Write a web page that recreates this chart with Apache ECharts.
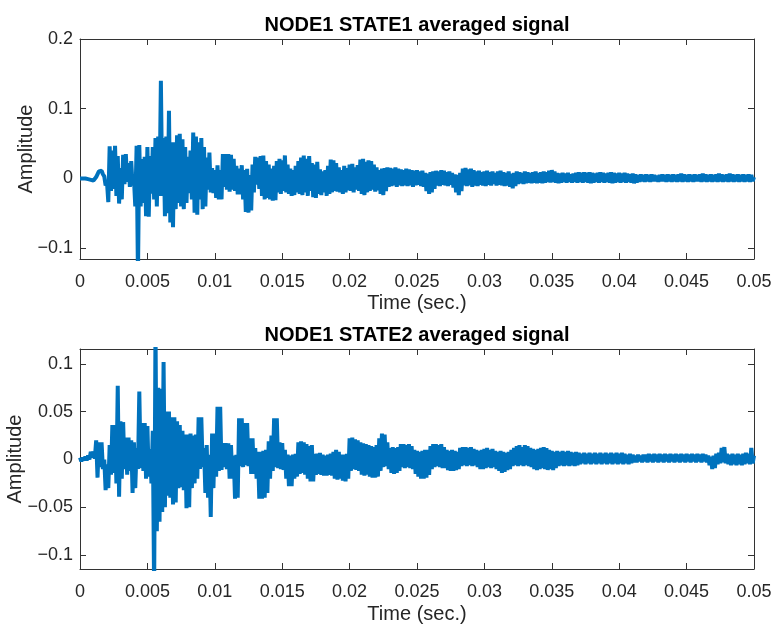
<!DOCTYPE html>
<html><head><meta charset="utf-8">
<script src="https://cdn.jsdelivr.net/npm/echarts@6/dist/echarts.min.js"></script>
<style>html,body{margin:0;padding:0;background:#fff}#c{width:782px;height:635px}</style>
</head><body><div id="c"></div>
<script>
// sample step (s); the signals alternate every sample between a peak and a trough
const dt = 0.0001;

// NODE1 STATE1: peak values at t = 0, 0.0002, ... 0.05
const peaks1 = [
0.000,0.000,0.000,-0.001,-0.002,-0.003,0.002,0.010,0.011,0.003,
-0.005,0.046,0.040,0.047,0.032,0.015,0.034,0.035,0.022,0.025,
0.000,0.047,0.048,0.028,0.031,0.045,0.032,0.045,0.058,0.060,
0.140,0.058,0.060,0.097,0.052,0.052,0.062,0.064,0.056,0.045,
0.031,0.040,0.066,0.060,0.052,0.058,0.045,0.030,0.037,0.015,
0.012,0.019,0.012,0.035,0.035,0.035,0.034,0.028,0.018,0.014,
0.019,0.012,0.014,0.005,0.020,0.031,0.030,0.032,0.033,0.025,
0.020,0.014,0.018,0.025,0.028,0.026,0.033,0.020,0.014,0.012,
0.018,0.025,0.030,0.033,0.028,0.032,0.022,0.020,0.024,0.013,
0.010,0.012,0.018,0.027,0.026,0.022,0.016,0.012,0.018,0.015,
0.020,0.021,0.016,0.019,0.027,0.028,0.024,0.026,0.025,0.020,
0.016,0.012,0.014,0.015,0.016,0.015,0.014,0.016,0.014,0.013,
0.012,0.014,0.013,0.012,0.011,0.012,0.010,0.011,0.008,0.007,
0.009,0.010,0.011,0.010,0.012,0.011,0.009,0.010,0.008,0.006,
0.005,0.008,0.014,0.015,0.013,0.014,0.012,0.010,0.011,0.009,
0.010,0.011,0.009,0.010,0.008,0.010,0.011,0.009,0.008,0.010,
0.007,0.008,0.010,0.009,0.008,0.010,0.009,0.008,0.009,0.010,
0.008,0.009,0.010,0.009,0.011,0.012,0.010,0.008,0.007,0.008,
0.007,0.008,0.006,0.007,0.008,0.009,0.008,0.009,0.008,0.009,
0.008,0.007,0.008,0.009,0.008,0.007,0.008,0.009,0.008,0.007,
0.008,0.007,0.008,0.007,0.006,0.007,0.006,0.005,0.006,0.005,
0.006,0.005,0.006,0.005,0.004,0.005,0.006,0.005,0.006,0.005,
0.006,0.005,0.006,0.007,0.006,0.005,0.006,0.005,0.006,0.005,
0.006,0.007,0.006,0.005,0.006,0.005,0.006,0.007,0.006,0.005,
0.006,0.007,0.006,0.005,0.006,0.005,0.006,0.005,0.006,0.005,
0.002
];
// NODE1 STATE1: trough values at t = 0.0001, 0.0003, ...
const troughs1 = [
0.000,0.000,-0.001,-0.001,-0.002,-0.003,0.000,0.008,0.006,-0.010,
-0.034,-0.018,-0.015,-0.025,-0.036,-0.030,-0.008,-0.005,-0.012,-0.010,
-0.040,-0.140,-0.040,-0.035,-0.054,-0.055,-0.022,-0.030,-0.040,-0.025,
-0.025,-0.054,-0.050,-0.063,-0.070,-0.044,-0.035,-0.040,-0.044,-0.035,
-0.021,-0.030,-0.049,-0.052,-0.030,-0.044,-0.040,-0.016,-0.020,-0.021,
-0.028,-0.030,-0.030,-0.012,-0.016,-0.019,-0.016,-0.018,-0.023,-0.023,
-0.030,-0.048,-0.049,-0.046,-0.020,-0.009,-0.015,-0.025,-0.030,-0.028,
-0.030,-0.032,-0.031,-0.020,-0.022,-0.018,-0.020,-0.022,-0.025,-0.024,
-0.020,-0.022,-0.024,-0.020,-0.025,-0.018,-0.027,-0.028,-0.022,-0.024,
-0.020,-0.025,-0.022,-0.020,-0.018,-0.019,-0.020,-0.022,-0.020,-0.017,
-0.018,-0.020,-0.016,-0.018,-0.022,-0.024,-0.020,-0.018,-0.016,-0.019,
-0.017,-0.022,-0.024,-0.018,-0.012,-0.011,-0.010,-0.012,-0.010,-0.011,
-0.010,-0.011,-0.010,-0.012,-0.010,-0.009,-0.011,-0.012,-0.018,-0.022,
-0.020,-0.015,-0.010,-0.011,-0.009,-0.010,-0.011,-0.009,-0.013,-0.020,
-0.024,-0.018,-0.010,-0.011,-0.010,-0.012,-0.010,-0.011,-0.009,-0.010,
-0.011,-0.009,-0.010,-0.008,-0.010,-0.009,-0.010,-0.011,-0.010,-0.012,
-0.014,-0.011,-0.008,-0.007,-0.008,-0.007,-0.006,-0.007,-0.006,-0.007,
-0.006,-0.007,-0.006,-0.005,-0.006,-0.005,-0.006,-0.007,-0.006,-0.005,
-0.006,-0.005,-0.006,-0.005,-0.006,-0.005,-0.006,-0.005,-0.006,-0.007,
-0.006,-0.005,-0.006,-0.005,-0.006,-0.005,-0.006,-0.007,-0.006,-0.005,
-0.006,-0.005,-0.006,-0.005,-0.006,-0.007,-0.006,-0.005,-0.004,-0.005,
-0.004,-0.005,-0.004,-0.004,-0.005,-0.004,-0.004,-0.005,-0.004,-0.005,
-0.004,-0.005,-0.004,-0.005,-0.004,-0.005,-0.004,-0.005,-0.004,-0.004,
-0.005,-0.004,-0.005,-0.004,-0.005,-0.004,-0.005,-0.004,-0.005,-0.004,
-0.005,-0.004,-0.005,-0.004,-0.005,-0.004,-0.005,-0.004,-0.005,-0.004
];

// NODE1 STATE2: peak values at t = 0, 0.0002, ... 0.05
const peaks2 = [
0.002,0.002,0.003,0.004,0.008,0.008,0.020,0.018,0.018,0.000,
-0.005,0.015,0.036,0.036,0.077,0.040,0.039,0.023,0.023,0.020,
0.018,0.012,0.071,0.038,0.038,0.035,0.011,0.030,0.140,0.075,
0.074,0.102,0.050,0.050,0.044,0.044,0.040,0.036,0.030,0.026,
0.026,0.027,0.025,0.026,0.044,0.044,0.012,0.015,0.005,0.027,
0.027,0.055,0.055,0.017,0.017,0.017,0.015,0.004,0.005,0.043,
0.043,0.038,0.038,0.022,0.022,0.012,0.008,0.008,0.009,0.010,
0.019,0.025,0.043,0.043,0.018,0.017,0.010,0.005,0.004,0.005,
0.006,0.018,0.019,0.018,0.016,0.014,0.015,0.006,0.006,0.007,
0.005,0.004,0.005,0.006,0.008,0.010,0.008,0.005,0.005,0.006,
0.022,0.023,0.021,0.020,0.018,0.017,0.016,0.015,0.014,0.013,
0.015,0.022,0.027,0.026,0.018,0.012,0.013,0.012,0.013,0.016,
0.016,0.015,0.016,0.014,0.010,0.009,0.008,0.009,0.010,0.010,
0.014,0.016,0.016,0.015,0.016,0.013,0.010,0.009,0.010,0.009,
0.008,0.012,0.013,0.013,0.012,0.013,0.011,0.010,0.009,0.010,
0.011,0.012,0.010,0.011,0.009,0.008,0.009,0.008,0.007,0.008,
0.010,0.012,0.014,0.015,0.013,0.015,0.014,0.012,0.011,0.010,
0.011,0.012,0.013,0.012,0.010,0.009,0.008,0.009,0.008,0.009,
0.008,0.009,0.008,0.007,0.008,0.007,0.006,0.007,0.006,0.007,
0.006,0.007,0.006,0.007,0.006,0.007,0.006,0.007,0.006,0.007,
0.006,0.007,0.006,0.005,0.006,0.005,0.004,0.005,0.004,0.005,
0.005,0.006,0.005,0.006,0.005,0.006,0.005,0.006,0.005,0.006,
0.005,0.006,0.005,0.006,0.005,0.006,0.005,0.006,0.005,0.006,
0.005,0.006,0.005,0.004,0.003,0.004,0.006,0.007,0.012,0.013,
0.006,0.005,0.006,0.005,0.006,0.005,0.006,0.007,0.006,0.012,
0.004
];
// NODE1 STATE2: trough values at t = 0.0001, 0.0003, ...
const troughs2 = [
-0.002,-0.001,-0.001,0.000,0.002,0.001,-0.019,-0.008,-0.010,-0.032,
-0.030,-0.016,-0.014,-0.025,-0.039,-0.020,-0.010,-0.016,-0.012,-0.035,
-0.030,-0.010,-0.009,-0.012,-0.020,-0.018,-0.025,-0.140,-0.075,-0.065,
-0.055,-0.050,-0.038,-0.040,-0.047,-0.045,-0.030,-0.029,-0.032,-0.051,
-0.050,-0.030,-0.025,-0.020,-0.010,-0.008,-0.035,-0.040,-0.060,-0.030,
-0.018,-0.012,-0.011,-0.008,-0.010,-0.020,-0.020,-0.041,-0.040,-0.007,
-0.008,-0.006,-0.007,-0.015,-0.015,-0.020,-0.041,-0.041,-0.040,-0.035,
-0.020,-0.012,-0.008,-0.009,-0.010,-0.011,-0.020,-0.028,-0.028,-0.020,
-0.018,-0.015,-0.014,-0.016,-0.020,-0.023,-0.023,-0.016,-0.015,-0.016,
-0.017,-0.017,-0.016,-0.017,-0.020,-0.021,-0.020,-0.022,-0.023,-0.020,
-0.012,-0.010,-0.011,-0.012,-0.016,-0.017,-0.016,-0.018,-0.019,-0.019,
-0.018,-0.012,-0.008,-0.007,-0.010,-0.014,-0.015,-0.014,-0.012,-0.008,
-0.009,-0.008,-0.009,-0.010,-0.015,-0.018,-0.020,-0.020,-0.019,-0.016,
-0.010,-0.008,-0.007,-0.008,-0.009,-0.009,-0.011,-0.012,-0.012,-0.011,
-0.010,-0.007,-0.006,-0.007,-0.006,-0.007,-0.006,-0.008,-0.010,-0.010,
-0.009,-0.008,-0.009,-0.008,-0.010,-0.012,-0.014,-0.013,-0.011,-0.010,
-0.007,-0.006,-0.007,-0.006,-0.007,-0.006,-0.007,-0.008,-0.010,-0.011,
-0.010,-0.009,-0.010,-0.011,-0.010,-0.011,-0.009,-0.007,-0.006,-0.007,
-0.006,-0.007,-0.006,-0.007,-0.006,-0.005,-0.004,-0.005,-0.004,-0.005,
-0.004,-0.005,-0.004,-0.005,-0.004,-0.005,-0.004,-0.005,-0.004,-0.005,
-0.004,-0.005,-0.004,-0.005,-0.004,-0.003,-0.003,-0.002,-0.003,-0.002,
-0.003,-0.002,-0.003,-0.002,-0.003,-0.002,-0.003,-0.002,-0.003,-0.002,
-0.003,-0.002,-0.003,-0.002,-0.003,-0.002,-0.003,-0.002,-0.003,-0.002,
-0.003,-0.002,-0.003,-0.006,-0.010,-0.009,-0.005,-0.004,-0.003,-0.004,
-0.005,-0.006,-0.005,-0.006,-0.005,-0.006,-0.005,-0.004,-0.005,-0.004
];

const xTicks = [0, 0.005, 0.01, 0.015, 0.02, 0.025, 0.03, 0.035, 0.04, 0.045, 0.05];
const yTicks1 = [-0.1, 0, 0.1, 0.2];
const yTicks2 = [-0.1, -0.05, 0, 0.05, 0.1];
const titles = ['NODE1 STATE1 averaged signal', 'NODE1 STATE2 averaged signal'];
const xName = 'Time (sec.)';
const yName = 'Amplitude';

const FONT = '"Liberation Sans", Arial, Helvetica, sans-serif';
const AX = '#333333';
const TXT = '#262626';
const BLUE = '#0072BD';

function fmt(v) {
  const s = String(parseFloat(Number(v).toFixed(4)));
  return s.charAt(0) === '-' ? '\u2212' + s.slice(1) : s;
}

function samples(peaks, troughs) {
  const pts = [];
  for (let k = 0; k < peaks.length; k++) {
    pts.push([2 * k * dt, peaks[k]]);
    if (k < troughs.length) pts.push([(2 * k + 1) * dt, troughs[k]]);
  }
  return pts;
}

const grids = [
  { left: 80, right: 28, top: 39, height: 220, containLabel: false, outerBoundsMode: 'none' },
  { left: 80, right: 28, top: 349, height: 220, containLabel: false, outerBoundsMode: 'none' }
];
const yRanges = [[-0.1155, 0.2], [-0.1145, 0.1155]];
const yTickSets = [yTicks1, yTicks2];
const yNameGaps = [44, 55];

const xAxes = [], yAxes = [];
for (let g = 0; g < 2; g++) {
  xAxes.push({
    gridIndex: g, type: 'value', position: 'bottom', min: 0, max: 0.05,
    axisLine: { show: true, onZero: false, lineStyle: { color: AX, width: 1 } },
    axisTick: { show: true, inside: true, length: 6, customValues: xTicks, lineStyle: { color: AX } },
    axisLabel: { show: true, customValues: xTicks, formatter: fmt, fontSize: 18, color: TXT, margin: 14, fontFamily: FONT },
    splitLine: { show: false },
    name: xName, nameLocation: 'middle', nameGap: g === 0 ? 34 : 35, nameMoveOverlap: false,
    nameTextStyle: { fontSize: 20, color: TXT, fontFamily: FONT }
  });
  xAxes.push({
    gridIndex: g, type: 'value', position: 'top', min: 0, max: 0.05,
    axisLine: { show: true, onZero: false, lineStyle: { color: AX, width: 1 } },
    axisTick: { show: true, inside: true, length: 6, customValues: xTicks, lineStyle: { color: AX } },
    axisLabel: { show: false }, splitLine: { show: false }
  });
  yAxes.push({
    gridIndex: g, type: 'value', position: 'left', min: yRanges[g][0], max: yRanges[g][1],
    axisLine: { show: true, onZero: false, lineStyle: { color: AX, width: 1 } },
    axisTick: { show: true, inside: true, length: 6, customValues: yTickSets[g], lineStyle: { color: AX } },
    axisLabel: { show: true, customValues: yTickSets[g], formatter: fmt, fontSize: 18, color: TXT, margin: 7, fontFamily: FONT },
    splitLine: { show: false },
    name: yName, nameLocation: 'middle', nameGap: yNameGaps[g], nameMoveOverlap: false,
    nameTextStyle: { fontSize: 20, color: TXT, fontFamily: FONT }
  });
  yAxes.push({
    gridIndex: g, type: 'value', position: 'right', min: yRanges[g][0], max: yRanges[g][1],
    axisLine: { show: true, onZero: false, lineStyle: { color: AX, width: 1 } },
    axisTick: { show: true, inside: true, length: 6, customValues: yTickSets[g], lineStyle: { color: AX } },
    axisLabel: { show: false }, splitLine: { show: false }
  });
}

const option = {
  animation: false,
  backgroundColor: '#ffffff',
  title: [
    { text: titles[0], left: 417, top: 15, textAlign: 'center', padding: 0,
      textStyle: { fontSize: 20, fontWeight: 'bold', color: '#000', fontFamily: FONT } },
    { text: titles[1], left: 417, top: 325, textAlign: 'center', padding: 0,
      textStyle: { fontSize: 20, fontWeight: 'bold', color: '#000', fontFamily: FONT } }
  ],
  grid: grids,
  xAxis: xAxes,
  yAxis: yAxes,
  series: [
    { type: 'line', xAxisIndex: 0, yAxisIndex: 0, data: samples(peaks1, troughs1), showSymbol: false,
      sampling: null, silent: true, lineStyle: { color: BLUE, width: 4 }, itemStyle: { color: BLUE } },
    { type: 'line', xAxisIndex: 2, yAxisIndex: 2, data: samples(peaks2, troughs2), showSymbol: false,
      sampling: null, silent: true, lineStyle: { color: BLUE, width: 4 }, itemStyle: { color: BLUE } }
  ]
};

const chart = echarts.init(document.getElementById('c'), null, { renderer: 'canvas' });
chart.setOption(option);
</script>
</body></html>
